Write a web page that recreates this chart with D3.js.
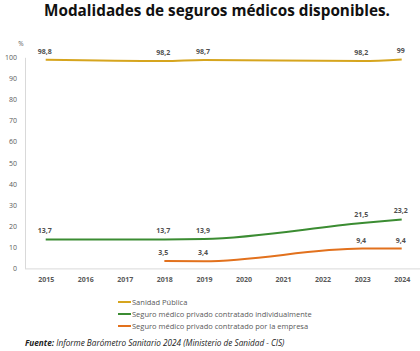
<!DOCTYPE html>
<html lang="es">
    <head>
        <meta charset="utf-8">
        <title>Modalidades de seguros médicos</title>
        <script type="text/javascript" src="https://cdn.jsdelivr.net/npm/d3@7"></script>
        <style type="text/css">
            body { margin: 0; background: #fff; }
            text { font-family: "Open Sans", sans-serif; }
        </style>
    </head>
    <body>
        <script type="text/javascript">
            var w = 420;
            var h = 351;

            //Data (null = no survey that year)
            var years = [2015, 2016, 2017, 2018, 2019, 2020, 2021, 2022, 2023, 2024];
            var publica    = [98.8, null, null, 98.2, 98.7, null, null, null, 98.2, 99];
            var individual = [13.7, null, null, 13.7, 13.9, null, null, null, 21.5, 23.2];
            var empresa    = [null, null, null, 3.5, 3.4, null, null, null, 9.4, 9.4];
            var yTicks = [0, 10, 20, 30, 40, 50, 60, 70, 80, 90, 100];
            var seriesNames = ["Sanidad Pública",
                               "Seguro médico privado contratado individualmente",
                               "Seguro médico privado contratado por la empresa"];
            var colors = ["#d6a51e", "#3b8c32", "#e2711d"];

            var series = [publica, individual, empresa].map(function(vals, i) {
                return {
                    name: seriesNames[i],
                    color: colors[i],
                    points: years.map(function(y, j) { return [y, vals[j]]; })
                                 .filter(function(d) { return d[1] != null; })
                };
            });

            var xScale = d3.scalePoint()
                .domain(years)
                .range([45.7, 401.7]);

            var yScale = d3.scaleLinear()
                .domain([0, 100])
                .range([268.4, 57.3]);

            var svg = d3.select("body")
                .append("svg")
                .attr("width", w)
                .attr("height", h);

            //Title
            svg.append("text")
                .attr("x", 217)
                .attr("y", 16)
                .attr("text-anchor", "middle")
                .attr("font-size", "15.3px")
                .attr("font-weight", "bold")
                .attr("fill", "#111")
                .text("Modalidades de seguros médicos disponibles.");

            //Axes
            var yAxis = d3.axisLeft(yScale)
                .tickValues(yTicks)
                .tickSize(0)
                .tickPadding(8);
            var gy = svg.append("g")
                .attr("transform", "translate(25,0)")
                .call(yAxis);
            gy.select(".domain").attr("stroke", "#d9d9d9");
            gy.selectAll("text")
                .attr("font-size", "7px")
                .attr("fill", "#595959")
                .attr("font-family", "Open Sans, sans-serif");

            svg.append("text")
                .attr("x", 21)
                .attr("y", 46)
                .attr("text-anchor", "middle")
                .attr("font-size", "6.5px")
                .attr("fill", "#595959")
                .text("%");

            var xAxis = d3.axisBottom(xScale)
                .tickSize(0)
                .tickPadding(9);
            var gx = svg.append("g")
                .attr("transform", "translate(0," + yScale(0) + ")")
                .call(xAxis);
            gx.select(".domain")
                .attr("d", "M25,0.5H420")
                .attr("stroke", "#d9d9d9");
            gx.selectAll("text")
                .attr("font-size", "7px")
                .attr("font-weight", "bold")
                .attr("fill", "#595959")
                .attr("font-family", "Open Sans, sans-serif");

            //Lines
            var line = d3.line()
                .x(function(d) { return xScale(d[0]); })
                .y(function(d) { return yScale(d[1]); })
                .curve(d3.curveMonotoneX);

            svg.selectAll(".series")
                .data(series)
                .enter()
                .append("path")
                .attr("class", "series")
                .attr("d", function(d) { return line(d.points); })
                .attr("fill", "none")
                .attr("stroke", function(d) { return d.color; })
                .attr("stroke-width", 2);

            //Data labels
            series.forEach(function(s) {
                svg.selectAll(null)
                    .data(s.points)
                    .enter()
                    .append("text")
                    .attr("x", function(d) { return xScale(d[0]) - 1; })
                    .attr("y", function(d) { return yScale(d[1]) - 6; })
                    .attr("text-anchor", "middle")
                    .attr("font-size", "7px")
                    .attr("font-weight", "bold")
                    .attr("fill", "#505050")
                    .text(function(d) { return String(d[1]).replace(".", ","); });
            });

            //Legend
            var legend = svg.selectAll(".legend")
                .data(series)
                .enter()
                .append("g")
                .attr("class", "legend")
                .attr("transform", function(d, i) { return "translate(118," + (302 + i * 12) + ")"; });
            legend.append("line")
                .attr("x1", 0).attr("x2", 13)
                .attr("y1", 0).attr("y2", 0)
                .attr("stroke", function(d) { return d.color; })
                .attr("stroke-width", 2);
            legend.append("text")
                .attr("x", 14)
                .attr("y", 2.6)
                .attr("font-size", "7.5px")
                .attr("fill", "#595959")
                .text(function(d) { return d.name; });

            //Source
            var src = svg.append("text")
                .attr("x", 25)
                .attr("y", 346)
                .attr("font-size", "8.2px")
                .attr("font-style", "italic")
                .attr("fill", "#222");
            src.append("tspan").attr("font-weight", "bold").text("Fuente:");
            src.append("tspan").text(" Informe Barómetro Sanitario 2024 (Ministerio de Sanidad - CIS)");
        </script>
    </body>
</html>
